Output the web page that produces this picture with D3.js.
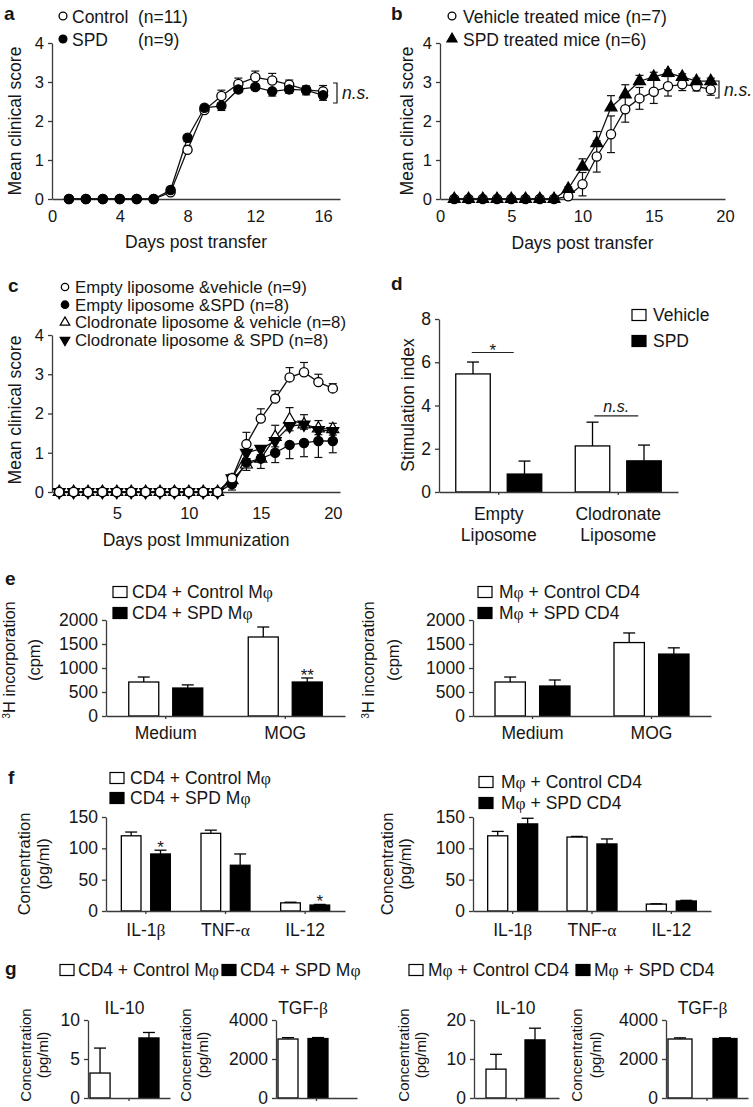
<!DOCTYPE html>
<html>
<head>
<meta charset="utf-8">
<script src="https://cdn.jsdelivr.net/npm/d3@7/dist/d3.min.js"></script>
<style>
  body { margin: 0; background: #fff; }
  svg { display: block; }
</style>
</head>
<body>
<svg id="fig" width="753" height="1107"></svg>
<script>
// Figure : scores cliniques (a-c) + histogrammes (d-g)

const FONT = '"Liberation Sans", Arial, Helvetica, sans-serif';
const SERIF = '"Liberation Serif", "DejaVu Serif", serif';
const INK = '#161616';
const AXIS = '#3a3a3a';

// ---- a : transfert adoptif ----
const daysA = [1, 2, 3, 4, 5, 6, 7, 8, 9, 10, 11, 12, 13, 14, 15, 16];
const ctrlA = [0, 0, 0, 0, 0, 0, 0.17, 1.26, 2.28, 2.64, 2.95, 3.12, 3.04, 2.93, 2.8, 2.76];
const ctrlAErr = [0, 0, 0, 0, 0, 0, 0.06, 0.1, 0.08, 0.15, 0.15, 0.16, 0.18, 0.12, 0.1, 0.15];
const spdA = [0, 0, 0, 0, 0, 0, 0.23, 1.57, 2.34, 2.39, 2.81, 2.87, 2.76, 2.81, 2.79, 2.66];
const spdAErr = [0, 0, 0, 0, 0, 0, 0.06, 0.1, 0.08, 0.12, 0.08, 0.07, 0.12, 0.1, 0.12, 0.13];
const legendA = ['Control', 'SPD'];
const countsA = ['(n=11)', '(n=9)'];

// ---- b : traitement ----
const daysB = [1, 2, 3, 4, 5, 6, 7, 8, 9, 10, 11, 12, 13, 14, 15, 16, 17, 18, 19];
const vehB = [0, 0, 0, 0, 0, 0, 0, 0, 0.07, 0.38, 1.09, 1.66, 2.3, 2.58, 2.75, 2.89, 2.94, 2.89, 2.81];
const vehBErr = [0, 0, 0, 0, 0, 0, 0, 0, 0.05, 0.3, 0.4, 0.47, 0.33, 0.28, 0.3, 0.25, 0.16, 0.12, 0.15];
const spdB = [0, 0, 0, 0, 0, 0, 0, 0, 0.26, 0.83, 1.43, 2.35, 2.68, 3.02, 3.13, 3.23, 3.13, 3.02, 3.02];
const spdBErr = [0, 0, 0, 0, 0, 0, 0, 0, 0.05, 0.2, 0.3, 0.3, 0.25, 0.15, 0.12, 0.08, 0.08, 0.08, 0.08];
const legendB = ['Vehicle treated mice (n=7)', 'SPD treated mice (n=6)'];

// ---- c : liposomes ----
const daysC = [1, 2, 3, 4, 5, 6, 7, 8, 9, 10, 11, 12, 13, 14, 15, 16, 17, 18, 19, 20];
const evC = [0, 0, 0, 0, 0, 0, 0, 0, 0, 0, 0, 0, 0.35, 1.22, 1.87, 2.38, 2.92, 3.05, 2.8, 2.64];
const evCErr = [0, 0, 0, 0, 0, 0, 0, 0, 0, 0, 0, 0, 0.1, 0.3, 0.25, 0.2, 0.25, 0.25, 0.2, 0.12];
const esC = [0, 0, 0, 0, 0, 0, 0, 0, 0, 0, 0, 0, 0.2, 0.75, 0.85, 1.0, 1.2, 1.25, 1.3, 1.3];
const esCErr = [0, 0, 0, 0, 0, 0, 0, 0, 0, 0, 0, 0, 0.15, 0.2, 0.25, 0.25, 0.35, 0.35, 0.42, 0.3];
const cvC = [0, 0, 0, 0, 0, 0, 0, 0, 0, 0, 0, 0, 0.3, 0.7, 0.85, 1.4, 1.85, 1.72, 1.62, 1.6];
const cvCErr = [0, 0, 0, 0, 0, 0, 0, 0, 0, 0, 0, 0, 0.15, 0.15, 0.2, 0.3, 0.3, 0.25, 0.2, 0.15];
const csC = [0, 0, 0, 0, 0, 0, 0, 0, 0, 0, 0, 0, 0.35, 1.0, 1.1, 1.3, 1.68, 1.72, 1.58, 1.55];
const csCErr = [0, 0, 0, 0, 0, 0, 0, 0, 0, 0, 0, 0, 0.1, 0.15, 0.15, 0.15, 0.12, 0.12, 0.12, 0.1];
const legendC = ['Empty liposome &vehicle (n=9)', 'Empty liposome &SPD (n=8)',
                 'Clodronate liposome & vehicle (n=8)', 'Clodronate liposome & SPD (n=8)'];
const scoreTicks = [0, 1, 2, 3, 4];

// ---- d : index de stimulation ----
const groupsD = ['Empty Liposome', 'Clodronate Liposome'];
const vehD = [5.46, 2.13];
const vehDErr = [0.55, 1.1];
const spdD = [0.83, 1.44];
const spdDErr = [0.6, 0.73];
const legendD = ['Vehicle', 'SPD'];
const ticksD = [0, 2, 4, 6, 8];

// ---- e : incorporation 3H ----
const groupsE = ['Medium', 'MOG'];
const ctrlEL = [708, 1646];
const ctrlELErr = [104, 208];
const spdEL = [583, 708];
const spdELErr = [65, 84];
const starsEL = ['', '**'];
const ctrlER = [708, 1530];
const ctrlERErr = [104, 200];
const spdER = [625, 1290];
const spdERErr = [125, 130];
const legendEL = ['CD4 + Control Mφ', 'CD4 + SPD Mφ'];
const legendER = ['Mφ + Control CD4', 'Mφ + SPD CD4'];
const ticksE = [0, 500, 1000, 1500, 2000];

// ---- f : cytokines pro-inflammatoires ----
const groupsF = ['IL-1β', 'TNF-α', 'IL-12'];
const ctrlFL = [120, 124, 13];
const ctrlFLErr = [6, 5, 1];
const spdFL = [91, 73, 9.5];
const spdFLErr = [6, 18, 1];
const starsFL = ['*', '', '*'];
const ctrlFR = [120, 118, 11];
const ctrlFRErr = [7, 1, 0.5];
const spdFR = [139, 107, 16];
const spdFRErr = [9, 8, 1];
const ticksF = [0, 50, 100, 150];

// ---- g : cytokines anti-inflammatoires ----
const il10GL = [3.2, 7.7];
const il10GLErr = [3.2, 0.7];
const tgfGL = [3025, 3050];
const tgfGLErr = [70, 50];
const il10GR = [7.4, 14.9];
const il10GRErr = [3.8, 3.0];
const tgfGR = [3025, 3050];
const tgfGRErr = [60, 40];

const svg = d3.select('#fig').attr('font-family', FONT).attr('fill', INK);
const fmtInt = d3.format('d');

// texte avec lettres grecques en police serif (comme la police Symbol d'origine)
function rich(sel, str) {
  str.split(/([\u03b1-\u03c9]+)/).filter(s => s).forEach(part => {
    const t = sel.append('tspan').text(part);
    if (/[\u03b1-\u03c9]/.test(part)) t.attr('font-family', SERIF);
  });
  return sel;
}

function styleAxis(sel, size) {
  sel.attr('font-family', FONT).attr('font-size', size);
  sel.selectAll('path, line').attr('stroke', AXIS).attr('stroke-width', 1.3);
  sel.selectAll('text').attr('fill', INK);
}

function panelLetter(ch, x, y) {
  svg.append('text').attr('x', x).attr('y', y).attr('dy', '0.35em')
    .attr('font-size', 19).attr('font-weight', 'bold').text(ch);
}

function drawMarker(g, shape, cx, cy, scale) {
  const k = scale || 1;
  if (shape === 'circleOpen' || shape === 'circleFill') {
    g.append('circle').attr('cx', cx).attr('cy', cy).attr('r', 4.6 * k)
      .attr('fill', shape === 'circleOpen' ? '#fff' : '#000')
      .attr('stroke', '#000').attr('stroke-width', 1.3);
  } else {
    const sym = d3.symbol().type(d3.symbolTriangle).size(62 * k * k);
    g.append('path').attr('d', sym())
      .attr('transform', `translate(${cx},${cy})` + (shape === 'triDown' ? ' rotate(180)' : ''))
      .attr('fill', shape === 'triOpen' ? '#fff' : '#000')
      .attr('stroke', '#000').attr('stroke-width', 1.2);
  }
}

function yTitle(lines, xs, cy, size) {
  lines.forEach((ln, i) => {
    const t = svg.append('text')
      .attr('transform', `translate(${xs[i]},${cy}) rotate(-90)`)
      .attr('text-anchor', 'middle').attr('dy', '0.35em').attr('font-size', size);
    if (ln === '3H incorporation') {
      t.append('tspan').attr('font-size', size * 0.62).attr('dy', '-0.45em').text('3');
      t.append('tspan').attr('dy', '0.28em').text('H incorporation');
    } else {
      t.text(ln);
    }
  });
}

// ---------- courbes de score clinique ----------
function linePanel(p) {
  const g = svg.append('g');
  const x = d3.scaleLinear().domain(p.xDomain).range(p.xRange);
  const y = d3.scaleLinear().domain([0, 4]).range(p.yRange);

  g.append('g').attr('transform', `translate(${p.xRange[0]},0)`)
    .call(d3.axisLeft(y).tickValues(scoreTicks).tickFormat(fmtInt).tickSize(4).tickSizeOuter(0).tickPadding(4))
    .call(styleAxis, 16.5);
  g.append('g').attr('transform', `translate(0,${p.yRange[0]})`)
    .call(d3.axisBottom(x).tickValues(p.xTicks).tickFormat(fmtInt).tickSize(0).tickPadding(p.xPad))
    .call(styleAxis, 16.5);

  svg.append('text').attr('x', (p.xRange[0] + p.xRange[1]) / 2).attr('y', p.xTitleY)
    .attr('dy', '0.35em').attr('text-anchor', 'middle').attr('font-size', 17.5).text(p.xTitle);
  yTitle(['Mean clinical score'], [p.yTitleX], p.yTitleY, 17.5);

  const all = p.series.map(s => s.days.map((d, i) => ({ d, v: s.vals[i], e: s.errs[i], s })));

  // lignes
  all.forEach(pts => {
    g.append('path').datum(pts)
      .attr('d', d3.line().x(q => x(q.d)).y(q => y(q.v)))
      .attr('fill', 'none').attr('stroke', '#111').attr('stroke-width', 1.3);
  });
  // barres d'erreur
  all.forEach(pts => {
    pts.filter(q => q.e > 0).forEach(q => {
      const dir = q.s.dir;
      const top = dir === 'down' ? q.v : q.v + q.e;
      const bot = dir === 'up' ? q.v : q.v - q.e;
      const cx = x(q.d);
      g.append('line').attr('x1', cx).attr('x2', cx).attr('y1', y(top)).attr('y2', y(bot))
        .attr('stroke', '#111').attr('stroke-width', 1.2);
      if (dir !== 'down') g.append('line').attr('x1', cx - 4).attr('x2', cx + 4)
        .attr('y1', y(top)).attr('y2', y(top)).attr('stroke', '#111').attr('stroke-width', 1.2);
      if (dir !== 'up') g.append('line').attr('x1', cx - 4).attr('x2', cx + 4)
        .attr('y1', y(bot)).attr('y2', y(bot)).attr('stroke', '#111').attr('stroke-width', 1.2);
    });
  });
  // marqueurs
  all.forEach(pts => pts.forEach(q => drawMarker(g, q.s.shape, x(q.d), y(q.v))));
  return { x, y };
}

// ---------- histogrammes ----------
function barPanel(p) {
  const g = svg.append('g');
  const y = d3.scaleLinear().domain(p.yDomain).range(p.yRange);
  const xg = d3.scaleBand().domain(p.groups).range(p.xRange);
  const xs = d3.scaleBand().domain(d3.range(p.series.length)).range([0, p.innerW]).paddingInner(p.pad);
  const gLeft = k => xg(k) + xg.bandwidth() / 2 + (p.shift || 0) - p.innerW / 2;

  g.append('g').attr('transform', `translate(${p.xRange[0]},0)`)
    .call(d3.axisLeft(y).tickValues(p.ticks).tickFormat(fmtInt).tickSize(4).tickSizeOuter(0).tickPadding(4))
    .call(styleAxis, 17.5);

  const rows = [];
  p.series.forEach((s, si) => p.groups.forEach((k, gi) => rows.push({
    si, k, v: s.vals[gi], e: s.errs[gi], fill: s.fill, star: s.stars ? s.stars[gi] : ''
  })));

  g.selectAll('rect.bar').data(rows).join('rect').attr('class', 'bar')
    .attr('x', r => gLeft(r.k) + xs(r.si))
    .attr('width', xs.bandwidth())
    .attr('y', r => y(r.v))
    .attr('height', r => y(0) - y(r.v))
    .attr('fill', r => r.fill).attr('stroke', '#000').attr('stroke-width', 1.3);

  rows.filter(r => r.e > 0).forEach(r => {
    const cx = gLeft(r.k) + xs(r.si) + xs.bandwidth() / 2;
    g.append('line').attr('x1', cx).attr('x2', cx).attr('y1', y(r.v)).attr('y2', y(r.v + r.e))
      .attr('stroke', '#000').attr('stroke-width', 1.3);
    g.append('line').attr('x1', cx - 6).attr('x2', cx + 6).attr('y1', y(r.v + r.e)).attr('y2', y(r.v + r.e))
      .attr('stroke', '#000').attr('stroke-width', 1.3);
  });
  rows.filter(r => r.star).forEach(r => {
    const cx = gLeft(r.k) + xs(r.si) + xs.bandwidth() / 2;
    g.append('text').attr('x', cx).attr('y', y(r.v + r.e) + 3).attr('text-anchor', 'middle')
      .attr('font-size', 17).text(r.star);
  });

  g.append('g').attr('transform', `translate(0,${p.yRange[0]})`)
    .call(d3.axisBottom(xg).tickSize(3).tickSizeOuter(0).tickFormat(''))
    .call(styleAxis, 17.5);

  if (p.labelY) {
    p.groups.forEach(k => {
      const lines = p.splitLabels ? k.split(' ') : [k];
      lines.forEach((ln, i) => {
        rich(svg.append('text').attr('x', xg(k) + xg.bandwidth() / 2 + (p.shift || 0))
          .attr('y', p.labelY + i * 21).attr('dy', '0.35em').attr('text-anchor', 'middle')
          .attr('font-size', 17.5), ln);
      });
    });
  }
  if (p.title) {
    rich(svg.append('text').attr('x', xg(p.groups[0]) + xg.bandwidth() / 2 + (p.shift || 0))
      .attr('y', p.titleY).attr('dy', '0.35em').attr('text-anchor', 'middle').attr('font-size', 17.5), p.title);
  }
  yTitle(p.yTitle, p.yTitleX, p.yTitleY, p.yTitleSize || 17.5);
  return { xg, y };
}

function boxLegend(labels, boxX, textX, ys) {
  labels.forEach((lb, i) => {
    svg.append('rect').attr('x', boxX).attr('y', ys[i] - 5.5).attr('width', 14).attr('height', 11)
      .attr('fill', i === 0 ? '#fff' : '#000').attr('stroke', '#000').attr('stroke-width', 1.2);
    rich(svg.append('text').attr('x', textX).attr('y', ys[i]).attr('dy', '0.35em')
      .attr('font-size', 17.5), lb);
  });
}

function nsBracket(x, y1, y2) {
  svg.append('path').attr('d', `M${x - 4},${y1} H${x} V${y2} H${x - 4}`)
    .attr('fill', 'none').attr('stroke', '#111').attr('stroke-width', 1.2);
  svg.append('text').attr('x', x + 5).attr('y', (y1 + y2) / 2).attr('dy', '0.35em')
    .attr('font-size', 17.5).attr('font-style', 'italic').text('n.s.');
}

// ===== a =====
panelLetter('a', 4, 13);
linePanel({
  xDomain: [0, 17], xRange: [52, 340], yRange: [199, 43], xTicks: [0, 4, 8, 12, 16], xPad: 11,
  xTitle: 'Days post transfer', xTitleY: 242, yTitleX: 15, yTitleY: 121,
  series: [
    { days: daysA, vals: ctrlA, errs: ctrlAErr, dir: 'up', shape: 'circleOpen' },
    { days: daysA, vals: spdA, errs: spdAErr, dir: 'down', shape: 'circleFill' }
  ]
});
['circleOpen', 'circleFill'].forEach((sh, i) => {
  drawMarker(svg, sh, 63, 16 + i * 23, 0.85);
  svg.append('text').attr('x', 72).attr('y', 17 + i * 23).attr('dy', '0.35em').attr('font-size', 17.5).text(legendA[i]);
  svg.append('text').attr('x', 138).attr('y', 17 + i * 23).attr('dy', '0.35em').attr('font-size', 17.5).text(countsA[i]);
});
nsBracket(337, 83, 103);

// ===== b =====
panelLetter('b', 391, 13);
linePanel({
  xDomain: [0, 20], xRange: [440, 725], yRange: [199, 43], xTicks: [0, 5, 10, 15, 20], xPad: 11,
  xTitle: 'Days post transfer', xTitleY: 243, yTitleX: 407, yTitleY: 121,
  series: [
    { days: daysB, vals: vehB, errs: vehBErr, dir: 'both', shape: 'circleOpen' },
    { days: daysB, vals: spdB, errs: spdBErr, dir: 'up', shape: 'triFill' }
  ]
});
['circleOpen', 'triFill'].forEach((sh, i) => {
  drawMarker(svg, sh, 452, 16 + i * 23, 0.85);
  svg.append('text').attr('x', 463).attr('y', 17 + i * 23).attr('dy', '0.35em').attr('font-size', 17.5).text(legendB[i]);
});
nsBracket(719, 81, 98);

// ===== c =====
panelLetter('c', 8, 285);
linePanel({
  xDomain: [0.5, 20.5], xRange: [52, 340], yRange: [492, 335], xTicks: [5, 10, 15, 20], xPad: 15,
  xTitle: 'Days post Immunization', xTitleY: 540, yTitleX: 15, yTitleY: 410,
  series: [
    { days: daysC, vals: cvC, errs: cvCErr, dir: 'up', shape: 'triOpen' },
    { days: daysC, vals: csC, errs: csCErr, dir: 'down', shape: 'triDown' },
    { days: daysC, vals: esC, errs: esCErr, dir: 'down', shape: 'circleFill' },
    { days: daysC, vals: evC, errs: evCErr, dir: 'up', shape: 'circleOpen' }
  ]
});
['circleOpen', 'circleFill', 'triOpen', 'triDown'].forEach((sh, i) => {
  drawMarker(svg, sh, 65, 287 + i * 17.7, 0.8);
  svg.append('text').attr('x', 75).attr('y', 287 + i * 17.7).attr('dy', '0.35em').attr('font-size', 16.8).text(legendC[i]);
});

// ===== d =====
panelLetter('d', 391, 283);
const pd = barPanel({
  groups: groupsD, xRange: [439, 678], yRange: [492, 319], yDomain: [0, 8], ticks: ticksD,
  innerW: 86, pad: 0.33, labelY: 514, splitLabels: true,
  yTitle: ['Stimulation index'], yTitleX: [408], yTitleY: 405,
  series: [
    { vals: vehD, errs: vehDErr, fill: '#fff' },
    { vals: spdD, errs: spdDErr, fill: '#000' }
  ]
});
boxLegend(legendD, 632, 653, [315, 341]);
// lignes de significativité
[['*', 6.45, -27, 15, false], ['n.s.', 3.52, -24, 20, true]].forEach(([lab, v, a, b, it], i) => {
  const cx = pd.xg(groupsD[i]) + pd.xg.bandwidth() / 2;
  svg.append('line').attr('x1', cx + a).attr('x2', cx + b).attr('y1', pd.y(v)).attr('y2', pd.y(v))
    .attr('stroke', '#222').attr('stroke-width', 1.2);
  svg.append('text').attr('x', cx + (a + b) / 2).attr('y', pd.y(v) + (it ? -4 : 3))
    .attr('text-anchor', 'middle').attr('font-size', it ? 16 : 17)
    .attr('font-style', it ? 'italic' : null).text(lab);
});

// ===== e =====
panelLetter('e', 5, 578);
barPanel({
  groups: groupsE, xRange: [106, 345], yRange: [716, 620], yDomain: [0, 2000], ticks: ticksE,
  innerW: 74, pad: 0.318, labelY: 733,
  yTitle: ['3H incorporation', '(cpm)'], yTitleX: [15, 34], yTitleY: 660, yTitleSize: 16.5,
  series: [
    { vals: ctrlEL, errs: ctrlELErr, fill: '#fff' },
    { vals: spdEL, errs: spdELErr, fill: '#000', stars: starsEL }
  ]
});
boxLegend(legendEL, 113, 132, [592, 613]);
barPanel({
  groups: groupsE, xRange: [473, 711], yRange: [716, 620], yDomain: [0, 2000], ticks: ticksE,
  innerW: 75, pad: 0.32, labelY: 733,
  yTitle: ['3H incorporation', '(cpm)'], yTitleX: [374, 393], yTitleY: 660, yTitleSize: 16.5,
  series: [
    { vals: ctrlER, errs: ctrlERErr, fill: '#fff' },
    { vals: spdER, errs: spdERErr, fill: '#000' }
  ]
});
boxLegend(legendER, 478, 499, [592, 613]);

// ===== f =====
panelLetter('f', 8, 777);
barPanel({
  groups: groupsF, xRange: [106, 345], yRange: [911, 817], yDomain: [0, 150], ticks: ticksF,
  innerW: 49, pad: 0.33, labelY: 930,
  yTitle: ['Concentration', '(pg/ml)'], yTitleX: [24, 43], yTitleY: 864, yTitleSize: 16.5,
  series: [
    { vals: ctrlFL, errs: ctrlFLErr, fill: '#fff' },
    { vals: spdFL, errs: spdFLErr, fill: '#000', stars: starsFL }
  ]
});
boxLegend(legendEL, 110, 130, [778, 798]);
barPanel({
  groups: groupsF, xRange: [473, 711], yRange: [911, 817], yDomain: [0, 150], ticks: ticksF,
  innerW: 50, pad: 0.33, labelY: 930,
  yTitle: ['Concentration', '(pg/ml)'], yTitleX: [387, 405], yTitleY: 864, yTitleSize: 16.5,
  series: [
    { vals: ctrlFR, errs: ctrlFRErr, fill: '#fff' },
    { vals: spdFR, errs: spdFRErr, fill: '#000' }
  ]
});
boxLegend(legendER, 479, 501, [782, 803]);

// ===== g =====
panelLetter('g', 5, 968);
// légende sur une ligne
[[60, 78, legendEL[0], '#fff'], [222, 240, legendEL[1], '#000'],
 [409, 428, legendER[0], '#fff'], [576, 594, legendER[1], '#000']].forEach(([bx, tx, lb, fill]) => {
  svg.append('rect').attr('x', bx).attr('y', 970 - 5.5).attr('width', 14).attr('height', 11)
    .attr('fill', fill).attr('stroke', '#000').attr('stroke-width', 1.2);
  rich(svg.append('text').attr('x', tx).attr('y', 970).attr('dy', '0.35em').attr('font-size', 17.5), lb);
});
[
  { title: 'IL-10', xRange: [88, 170], dom: [0, 10], ticks: [0, 5, 10], innerW: 69, pad: 0.59, shift: -4.5,
    vals: [il10GL, il10GLErr], tx: [26, 43] },
  { title: 'TGF-β', xRange: [276, 357], dom: [0, 4000], ticks: [0, 2000, 4000], innerW: 50, pad: 0.333, shift: -13.5,
    vals: [tgfGL, tgfGLErr], tx: [186, 203] },
  { title: 'IL-10', xRange: [474, 559], dom: [0, 20], ticks: [0, 10, 20], innerW: 59, pad: 0.487, shift: -1,
    vals: [il10GR, il10GRErr], tx: [404, 421] },
  { title: 'TGF-β', xRange: [666, 748], dom: [0, 4000], ticks: [0, 2000, 4000], innerW: 69, pad: 0.467, shift: -4.5,
    vals: [tgfGR, tgfGRErr], tx: [577, 596] }
].forEach(c => {
  barPanel({
    groups: [c.title], xRange: c.xRange, yRange: [1098, 1020], yDomain: c.dom, ticks: c.ticks,
    innerW: c.innerW, pad: c.pad, shift: c.shift, title: c.title, titleY: 1008,
    yTitle: ['Concentration', '(pg/ml)'], yTitleX: c.tx, yTitleY: 1055, yTitleSize: 15,
    series: [
      { vals: [c.vals[0][0]], errs: [c.vals[1][0]], fill: '#fff' },
      { vals: [c.vals[0][1]], errs: [c.vals[1][1]], fill: '#000' }
    ]
  });
});
</script>
</body>
</html>
